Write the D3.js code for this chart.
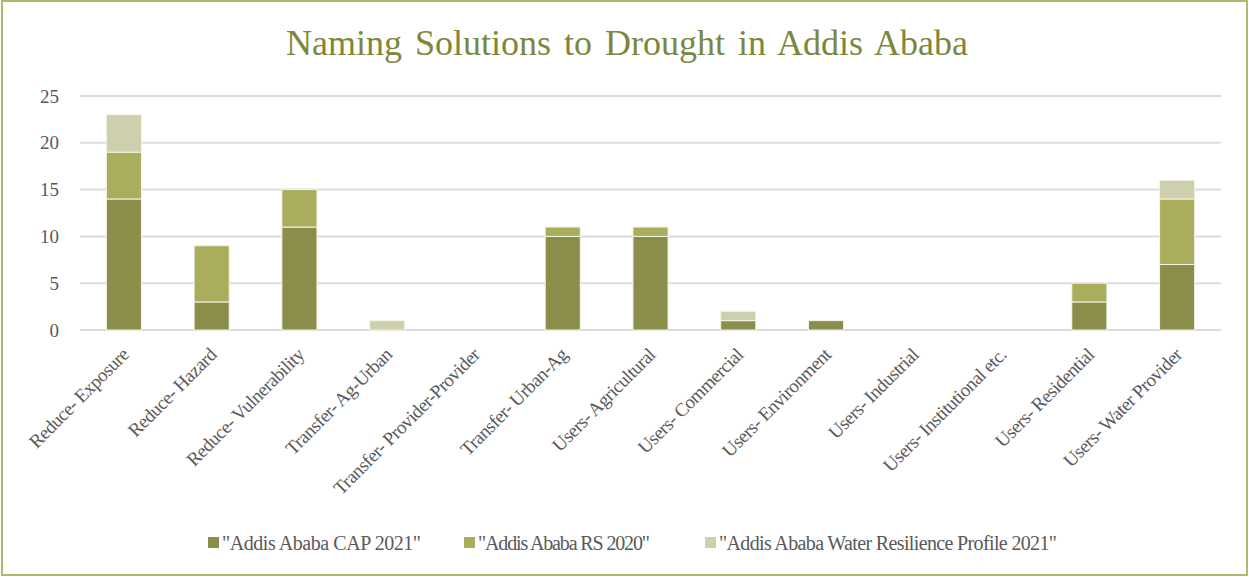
<!DOCTYPE html>
<html>
<head>
<meta charset="utf-8">
<script src="https://cdn.jsdelivr.net/npm/d3@7"></script>
<style>
  html, body { margin: 0; padding: 0; background: #fff; }
  svg { display: block; }
</style>
</head>
<body>
<svg id="chart" width="1249" height="577"></svg>
<script>
// Solution categories along the x axis
const categories = [
  "Reduce- Exposure", "Reduce- Hazard", "Reduce- Vulnerability", "Transfer- Ag-Urban",
  "Transfer- Provider-Provider", "Transfer- Urban-Ag", "Users- Agricultural",
  "Users- Commercial", "Users- Environment", "Users- Industrial",
  "Users- Institutional etc.", "Users- Residential", "Users- Water Provider"
];
// Counts per source document
const capValues        = [14, 3, 11, 0, 0, 10, 10, 1, 1, 0, 0, 3, 7];
const rsValues         = [5, 6, 4, 0, 0, 1, 1, 0, 0, 0, 0, 2, 7];
const resilienceValues = [4, 0, 0, 1, 0, 0, 0, 1, 0, 0, 0, 0, 2];
const seriesNames = ["\"Addis Ababa CAP 2021\"", "\"Addis Ababa RS 2020\"", "\"Addis Ababa Water Resilience Profile 2021\""];
const seriesColors = ["#8b8d4a", "#aaad5b", "#cecfac"];
const yTicks = [0, 5, 10, 15, 20, 25];

const svg = d3.select("#chart");
const W = 1249, H = 577;
const serif = "Liberation Serif, 'Times New Roman', serif";

// Outer frame
svg.append("rect").attr("x", 2).attr("y", 1).attr("width", W - 4).attr("height", H - 3)
  .attr("fill", "#fff").attr("stroke", "#b3b66f").attr("stroke-width", 2);

// Title
svg.append("text").attr("x", 627).attr("y", 55).attr("text-anchor", "middle")
  .attr("font-family", serif).attr("font-size", 36)
  .attr("word-spacing", 4).attr("fill", "#7c873d")
  .text("Naming Solutions to Drought in Addis Ababa");

const plot = { left: 80, right: 1221, top: 96, bottom: 330 };

const x = d3.scaleBand().domain(categories).range([plot.left, plot.right]).paddingInner(0.6).paddingOuter(0.3);
const y = d3.scaleLinear().domain([0, 25]).range([plot.bottom, plot.top]);

// Gridlines
svg.append("g").selectAll("line").data(yTicks).join("line")
  .attr("x1", plot.left).attr("x2", plot.right)
  .attr("y1", d => y(d)).attr("y2", d => y(d))
  .attr("stroke", "#dcdcdc").attr("stroke-width", 2);

// Y axis labels
const yAxis = svg.append("g").attr("transform", `translate(${plot.left},0)`)
  .call(d3.axisLeft(y).tickValues(yTicks).tickSize(0).tickPadding(21));
yAxis.select(".domain").remove();
yAxis.selectAll("text").attr("font-family", serif).attr("font-size", 19)
  .attr("fill", "#595959");

// Stacked bars
const rows = categories.map((c, i) => ({ cat: c, s0: capValues[i], s1: rsValues[i], s2: resilienceValues[i] }));
const stack = d3.stack().keys(["s0", "s1", "s2"])(rows);
svg.append("g").selectAll("g").data(stack).join("g")
  .attr("fill", (d, i) => seriesColors[i])
  .selectAll("rect").data(d => d.filter(p => p[1] - p[0] > 0)).join("rect")
  .attr("x", d => x(d.data.cat))
  .attr("width", x.bandwidth())
  .attr("y", d => y(d[1]))
  .attr("height", d => y(d[0]) - y(d[1]))
  .attr("stroke", "#f4f5e8").attr("stroke-width", 1);

// X axis labels, rotated
const xAxis = svg.append("g").attr("transform", `translate(0,${plot.bottom})`)
  .call(d3.axisBottom(x).tickSize(0).tickPadding(0));
xAxis.select(".domain").remove();
xAxis.selectAll("text")
  .attr("font-family", serif).attr("font-size", 19)
  .attr("fill", "#595959").attr("letter-spacing", -0.5)
  .attr("text-anchor", "end")
  .attr("dy", 0)
  .attr("transform", "translate(6,26) rotate(-45)");

// Legend
const legendItems = [
  { name: seriesNames[0], color: seriesColors[0], x: 208, w: 199 },
  { name: seriesNames[1], color: seriesColors[1], x: 464, w: 172 },
  { name: seriesNames[2], color: seriesColors[2], x: 705, w: 338 }
];
const lg = svg.append("g").selectAll("g").data(legendItems).join("g")
  .attr("transform", d => `translate(${d.x},543)`);
lg.append("rect").attr("x", 0).attr("y", -6).attr("width", 11).attr("height", 11).attr("fill", d => d.color);
lg.append("text").attr("x", 14).attr("y", 7)
  .attr("font-family", serif).attr("font-size", 20)
  .attr("textLength", d => d.w).attr("lengthAdjust", "spacing")
  .attr("fill", "#595959")
  .text(d => d.name);
</script>
</body>
</html>
